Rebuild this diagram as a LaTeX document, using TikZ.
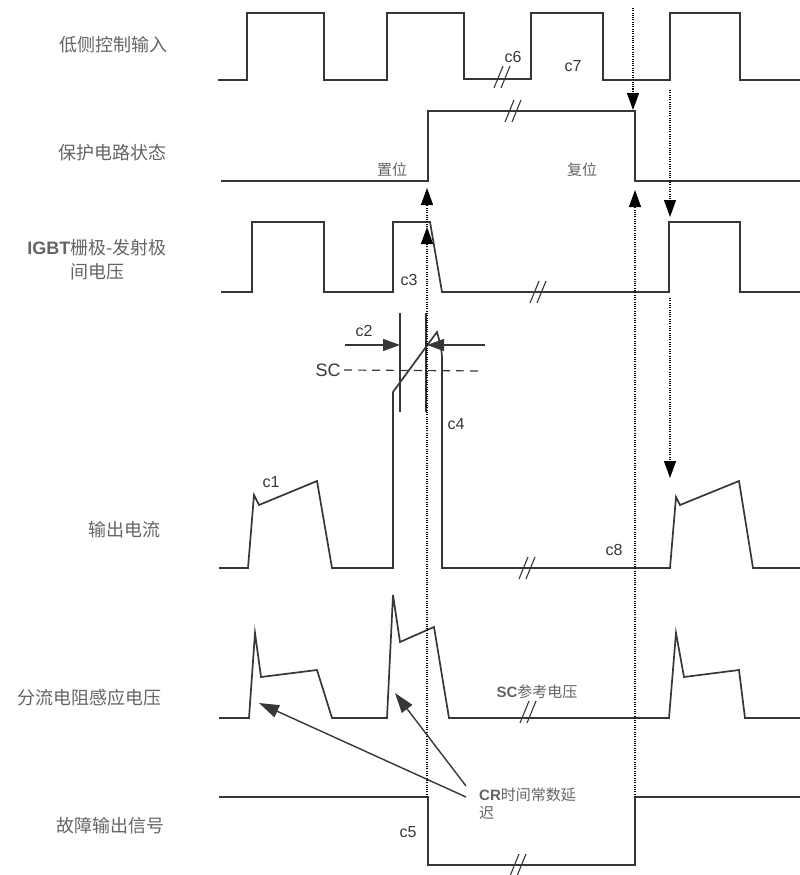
\documentclass[tikz,border=0pt]{standalone}
\usepackage{fontspec}
\setmainfont{Liberation Sans}
\newfontfamily\cjk{Noto Sans CJK SC}
\usetikzlibrary{arrows.meta}
\definecolor{xian}{RGB}{55,55,55}
\definecolor{zi}{RGB}{100,100,100}

\begin{document}
\begin{tikzpicture}[x=1pt,y=-1pt,
    bo/.style={draw=xian,line width=1.7pt,line join=miter},
    xu/.style={draw=black,line width=1.1pt,dash pattern=on 1pt off 1.3pt},
    jt/.style={-{Triangle[length=17pt,width=12pt]}},
    cjt/.style={-{Triangle[length=20pt,width=13pt]}},
    biao/.style={font=\cjk\fontsize{18}{24}\selectfont,text=zi},
    hao/.style={font=\fontsize{16}{18}\selectfont,text=xian},
    xiao/.style={font=\fontsize{15}{18}\selectfont,text=zi}]
        \useasboundingbox (0,0) rectangle (800,875);

        % 左侧信号名称
        \node[biao] (dkz) at (113,45) {低侧控制输入};
        \node[biao] (bh) at (112,153) {保护电路状态};
        \node[biao,align=center] (igbt) at (97,260) {{\rmfamily\bfseries IGBT}栅极-发射极\\间电压};
        \node[biao] (sc) at (124,530) {输出电流};
        \node[biao] (fl) at (89,698) {分流电阻感应电压};
        \node[biao] (gz) at (110,826) {故障输出信号};

        % 各路波形
        \draw[bo] (218,80) -- (247,80) -- (247,13) -- (324,13) -- (324,80) -- (387,80) -- (387,13) -- (464,13) -- (464,79)
            -- (531,79) -- (531,13) -- (603,13) -- (603,80) -- (670,80) -- (670,13) -- (740,13) -- (740,80) -- (800,80);
        \draw[bo] (221,181) -- (428,181) -- (428,111) -- (635,111) -- (635,181) -- (800,181);
        \draw[bo] (221,292) -- (252,292) -- (252,222) -- (324,222) -- (324,292) -- (393,292) -- (393,222) -- (430,222)
            -- (442,292) -- (669,292) -- (669,222) -- (740,222) -- (740,292) -- (800,292);
        \draw[bo] (219,568) -- (248,568) -- (254,495) -- (259,505) -- (317,481) -- (332,568) -- (393,568) -- (393,392)
            -- (434,336) -- (437,332) to[out=-75,in=90] (442,360) -- (442,568) -- (670,568) -- (676,497) -- (680,505)
            -- (739,481) -- (753,568) -- (800,568);
        \draw[bo] (219,718) -- (249,718) -- (255,633) -- (261,677) -- (317,670) -- (332,718) -- (387,718) -- (393,595)
            -- (400,642) -- (434,627) -- (449,718) -- (669,718) -- (676,633) -- (684,677) -- (739,670) -- (745,718) -- (800,718);
        \draw[bo] (219,797) -- (428,797) -- (428,865) -- (635,865) -- (635,797) -- (800,797);

        % 断开符号
        \foreach \bx/\by in {502/77, 513/111, 538/292, 527/568, 528/712, 518/865} {
            \draw[xian,line width=1.1pt] (\bx-8,\by+11) .. controls (\bx-4,\by) .. (\bx+1,\by-11);
            \draw[xian,line width=1.1pt] (\bx-1,\by+11) .. controls (\bx+3,\by) .. (\bx+8,\by-11);
        }

        % 短路检测放大部分
        \coordinate (L1) at (345,345);
        \coordinate (L2) at (400,345);
        \coordinate (R1) at (485,345);
        \coordinate (R2) at (427,345);
        \draw[xian,line width=1.3pt] (400,313) -- (400,412);
        \draw[xian,line width=1.3pt] (426,313) -- (426,412);
        \draw[xian,line width=1.3pt,jt] (L1) -- (L2);
        \draw[xian,line width=1.3pt,jt] (R1) -- (R2);
        \node[font=\fontsize{18}{20}\selectfont,text=xian] (scl) at (328,370) {SC};
        \draw[xian,line width=1.2pt,dash pattern=on 8pt off 6pt] (scl.east) -- (483,371);

        % 虚线箭头
        \coordinate (A1) at (427,797);
        \coordinate (A2) at (427,227);
        \coordinate (A3) at (427,188);
        \coordinate (B1) at (633,8);
        \coordinate (B2) at (633,110);
        \coordinate (C1) at (635,797);
        \coordinate (C2) at (635,190);
        \coordinate (D1) at (670,90);
        \coordinate (D2) at (670,217);
        \coordinate (E1) at (670,298);
        \coordinate (E2) at (670,478);
        \draw[xu,jt] (A1) -- (A2);
        \draw[xu,jt] (A2) -- (A3);
        \draw[xu,jt] (B1) -- (B2);
        \draw[xu,jt] (C1) -- (C2);
        \draw[xu,jt] (D1) -- (D2);
        \draw[xu,jt] (E1) -- (E2);

        % 标注
        \node[xiao] at (392,170) {\cjk 置位};
        \node[xiao] at (582,170) {\cjk 复位};
        \node[hao] (c1) at (271,482) {c1};
        \node[hao] (c2) at (364,331) {c2};
        \node[hao] (c3) at (409,280) {c3};
        \node[hao] (c4) at (456,424) {c4};
        \node[hao] (c5) at (408,832) {c5};
        \node[hao] (c6) at (513,57) {c6};
        \node[hao] (c7) at (573,66) {c7};
        \node[hao] (c8) at (614,550) {c8};
        \node[xiao,inner sep=0pt] (ckdy) at (537,692) {{\bfseries SC}\cjk 参考电压};
        \node[xiao,inner sep=0pt,align=left,anchor=north west] (cr) at (479,788) {{\bfseries CR}\cjk 时间常数延\\\cjk 迟};

        % CR 延迟箭头
        \coordinate (F1) at (466,797);
        \coordinate (F2) at (259,703);
        \coordinate (G1) at (466,786);
        \coordinate (G2) at (395,693);
        \draw[xian,line width=1.4pt,cjt] (F1) -- (F2);
        \draw[xian,line width=1.4pt,cjt] (G1) -- (G2);
\end{tikzpicture}
\end{document}
